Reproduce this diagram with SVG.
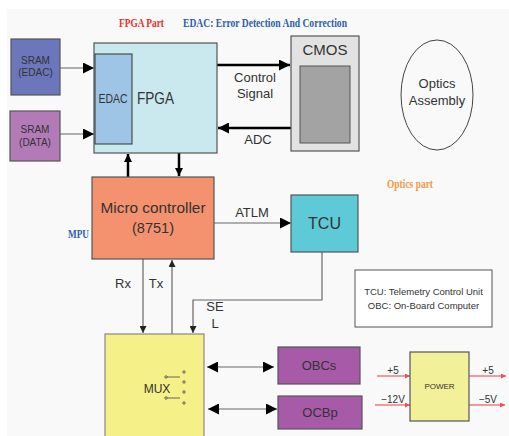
<svg xmlns="http://www.w3.org/2000/svg" width="509" height="436" viewBox="0 0 509 436">
<defs>
<marker id="ah" viewBox="0 0 10 10" refX="10" refY="5" markerWidth="8" markerHeight="8" markerUnits="userSpaceOnUse" orient="auto-start-reverse"><path d="M0,0 L10,5 L0,10 z" fill="#000"/></marker>
<marker id="ahb" viewBox="0 0 10 10" refX="10" refY="5" markerWidth="11" markerHeight="11" markerUnits="userSpaceOnUse" orient="auto-start-reverse"><path d="M0,0 L10,5 L0,10 z" fill="#000"/></marker>
<marker id="ahs" viewBox="0 0 10 10" refX="10" refY="5" markerWidth="7" markerHeight="7" markerUnits="userSpaceOnUse" orient="auto"><path d="M0,0 L10,5 L0,10 z" fill="#222"/></marker>
<marker id="ahr" viewBox="0 0 10 10" refX="10" refY="5" markerWidth="5" markerHeight="5" markerUnits="userSpaceOnUse" orient="auto"><path d="M0,0 L10,5 L0,10 z" fill="#e8505a"/></marker>
</defs>
<style>
.box{stroke:#555;stroke-width:1.2}
.t{font-family:"Liberation Sans",Arial,sans-serif;fill:#333;text-anchor:middle}
.ttl{font-family:"Liberation Serif","Times New Roman",serif;font-weight:bold;font-size:13px}
.ln{fill:none;stroke:#666;stroke-width:1.2}
.thk{fill:none;stroke:#000;stroke-width:2.5}
.pw{fill:none;stroke:#f07880;stroke-width:1.5}
</style>
<rect x="0" y="0" width="509" height="436" fill="#fff"/>
<rect x="7" y="9" width="502" height="427" fill="#f9f9f9"/>

<text class="ttl" x="119" y="27" fill="#e8302e" textLength="45" lengthAdjust="spacingAndGlyphs">FPGA Part</text>
<text class="ttl" x="183" y="27" fill="#2f5fae" textLength="164" lengthAdjust="spacingAndGlyphs">EDAC: Error Detection And Correction</text>
<text class="ttl" x="387" y="188" fill="#f79a46" textLength="46" lengthAdjust="spacingAndGlyphs">Optics part</text>
<text class="ttl" x="68" y="238" fill="#2f5fae" textLength="21" lengthAdjust="spacingAndGlyphs" font-size="11">MPU</text>

<g id="connectors">
<path class="ln" d="M60,68 H94" marker-end="url(#ahb)"/>
<path class="ln" d="M60,134 H94" marker-end="url(#ahb)"/>
<path class="thk" d="M217,65 H290" marker-end="url(#ahb)"/>
<path class="thk" d="M291,128 H218" marker-end="url(#ahb)"/>
<path class="thk" d="M128,177 V154" marker-end="url(#ah)"/>
<path class="thk" d="M179,153 V176" marker-end="url(#ah)"/>
<path class="ln" d="M214,223 H291" marker-end="url(#ahb)"/>
<path class="ln" d="M143,259 V333" marker-end="url(#ahs)"/>
<path class="ln" d="M172,334 V260" marker-end="url(#ahs)"/>
<path class="ln" d="M322,252 V300 H193 V333" marker-end="url(#ahs)"/>
<path class="ln" d="M207,367 H274" marker-start="url(#ahb)" marker-end="url(#ahb)"/>
<path class="ln" d="M208,409 H277" marker-start="url(#ahb)" marker-end="url(#ahb)"/>
<path class="pw" d="M377,376 H410" marker-end="url(#ahr)"/>
<path class="pw" d="M375,405 H410" marker-end="url(#ahr)"/>
<path class="pw" d="M469,376 H506" marker-end="url(#ahr)"/>
<path class="pw" d="M469,405 H505" marker-end="url(#ahr)"/>
<text class="t" x="255" y="82" font-size="13">Control</text>
<text class="t" x="255" y="98" font-size="13">Signal</text>
<text class="t" x="258" y="144" font-size="13">ADC</text>
<text class="t" x="252" y="217" font-size="13">ATLM</text>
<text class="t" x="123" y="288" font-size="13">Rx</text>
<text class="t" x="156" y="288" font-size="13">Tx</text>
<text class="t" x="215" y="311" font-size="13">SE</text>
<text class="t" x="215" y="328" font-size="13">L</text>
<text class="t" x="393" y="374" font-size="10">+5</text>
<text class="t" x="393" y="403" font-size="10">−12V</text>
<text class="t" x="488" y="374" font-size="10">+5</text>
<text class="t" x="488" y="403" font-size="10">−5V</text>
</g>

<g id="sram-edac">
<rect class="box" x="11" y="39" width="49" height="56" fill="#6c76bb"/>
<text class="t" x="35.5" y="64" font-size="10" fill="#333">SRAM</text>
<text class="t" x="35.5" y="76" font-size="10">(EDAC)</text>
</g>
<g id="sram-data">
<rect class="box" x="10" y="111" width="50" height="50" fill="#b27bb8"/>
<text class="t" x="35" y="133" font-size="10">SRAM</text>
<text class="t" x="35" y="146" font-size="10">(DATA)</text>
</g>
<g id="fpga">
<rect class="box" x="94" y="43" width="123" height="110" fill="#c9e9ef"/>
<rect x="95" y="54" width="37" height="90" fill="#9ec5e6" stroke="#333" stroke-width="1"/>
<text class="t" x="113" y="103" font-size="12" textLength="29" lengthAdjust="spacingAndGlyphs">EDAC</text>
<text class="t" x="155.5" y="104" font-size="17" textLength="37" lengthAdjust="spacingAndGlyphs">FPGA</text>
</g>
<g id="cmos">
<rect class="box" x="291" y="36" width="68" height="115" fill="#e2e2e2"/>
<rect x="300" y="66" width="50" height="77" fill="#a3a3a3" stroke="#555" stroke-width="1"/>
<text class="t" x="325" y="55" font-size="15">CMOS</text>
</g>
<g id="optics">
<ellipse cx="437" cy="95" rx="36" ry="55" fill="none" stroke="#444" stroke-width="1"/>
<text class="t" x="437" y="88" font-size="13">Optics</text>
<text class="t" x="437" y="105" font-size="13">Assembly</text>
</g>
<g id="mcu">
<rect class="box" x="92" y="177" width="122" height="82" fill="#f4916e"/>
<text class="t" x="153" y="213" font-size="15" textLength="105" lengthAdjust="spacingAndGlyphs">Micro controller</text>
<text class="t" x="153" y="233" font-size="15" textLength="42" lengthAdjust="spacingAndGlyphs">(8751)</text>
</g>
<g id="tcu">
<rect class="box" x="291" y="195" width="67" height="57" fill="#5ec9d7"/>
<text class="t" x="324.5" y="229" font-size="16">TCU</text>
</g>
<g id="legend">
<rect x="355" y="270" width="137" height="57" fill="#fff" stroke="#555" stroke-width="1"/>
<text class="t" x="423.5" y="295" font-size="9.5">TCU: Telemetry Control Unit</text>
<text class="t" x="423.5" y="309" font-size="9.5">OBC: On-Board Computer</text>
</g>
<g id="mux">
<rect x="105" y="334" width="99" height="106" fill="#f5f087" stroke="#888" stroke-width="1.2"/>
<text class="t" x="157" y="393" font-size="12" fill="#555">MUX</text>
<g fill="none" stroke="#555" stroke-width="0.9">
<line x1="167" y1="377" x2="180" y2="377"/>
<line x1="167" y1="398" x2="180" y2="398"/>
<circle cx="166" cy="377" r="1.2"/>
<circle cx="166" cy="398" r="1.2"/>
<circle cx="184" cy="372" r="1.2"/>
<circle cx="184" cy="382" r="1.2"/>
<circle cx="184" cy="392" r="1.2"/>
<circle cx="184" cy="403" r="1.2"/>
</g>
</g>
<g id="obcs">
<rect class="box" x="278" y="347" width="82" height="37" fill="#a65aa8"/>
<text class="t" x="319" y="370" font-size="13" fill="#222">OBCs</text>
</g>
<g id="ocbp">
<rect class="box" x="278" y="396" width="84" height="33" fill="#a65aa8"/>
<text class="t" x="320" y="417" font-size="13" fill="#222">OCBp</text>
</g>
<g id="power">
<rect class="box" x="410" y="352" width="59" height="69" fill="#f3f09a"/>
<text class="t" x="439.5" y="389" font-size="8" fill="#555">POWER</text>
</g>
</svg>
